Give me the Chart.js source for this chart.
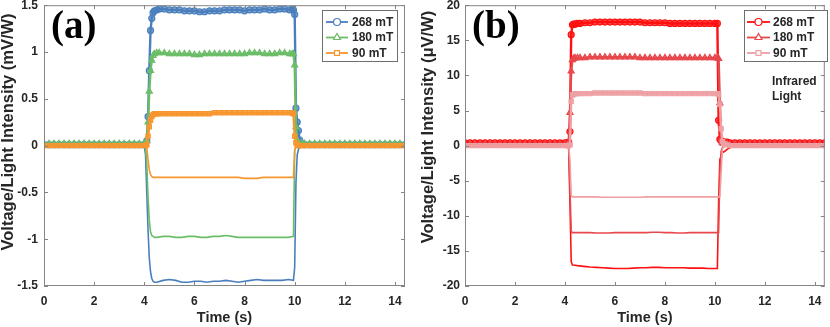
<!DOCTYPE html>
<html>
<head>
<meta charset="utf-8">
<script src="https://cdn.jsdelivr.net/npm/chart.js@4.4.0/dist/chart.umd.min.js"></script>
<style>
  html, body { margin: 0; padding: 0; background: #fff; }
  #wrap { position: relative; width: 830px; height: 327px; }
  canvas { position: absolute; top: 0; }
  #panelA { left: 0; }
  #panelB { left: 415px; }
</style>
</head>
<body>
<div id="wrap">
  <canvas id="panelA" width="415" height="327"></canvas>
  <canvas id="panelB" width="415" height="327"></canvas>
</div>
<script>
// ---------- data: panel (a), mV/W ----------
const xTicks = [0, 2, 4, 6, 8, 10, 12, 14];
const yTicksA = [-1.5, -1, -0.5, 0, 0.5, 1, 1.5];
const yTicksB = [-20, -15, -10, -5, 0, 5, 10, 15, 20];
const legendLabels = ['268 mT', '180 mT', '90 mT'];

const timeA = [0, 0.2, 0.4, 0.6, 0.8, 1, 1.2, 1.4, 1.6, 1.8, 2, 2.2, 2.4, 2.6, 2.8, 3, 3.2, 3.4, 3.6, 3.8, 4,
    4.05, 4.1, 4.15, 4.2, 4.25, 4.3, 4.35, 4.4, 4.5,
    4.6, 4.8, 5, 5.2, 5.4, 5.6, 5.8, 6, 6.2, 6.4, 6.6, 6.8, 7, 7.2, 7.4, 7.6, 7.8, 8, 8.2, 8.4, 8.6, 8.8, 9, 9.2, 9.4, 9.6, 9.8,
    9.9, 9.95, 10, 10.05, 10.1, 10.15, 10.2, 10.3, 10.4,
    10.6, 10.8, 11, 11.2, 11.4, 11.6, 11.8, 12, 12.2, 12.4, 12.6, 12.8, 13, 13.2, 13.4, 13.6, 13.8, 14, 14.2, 14.4];

const blue268A = [0.01, 0.01, 0.01, 0.01, 0.01, 0.01, 0.01, 0.01, 0.01, 0.01, 0.01, 0.01, 0.01, 0.01, 0.01, 0.01, 0.01, 0.01, 0.01, 0.01, 0.01,
    0.02, 0.05, 0.31, 0.8, 1.23, 1.36, 1.42, 1.44, 1.45,
    1.46, 1.46, 1.45, 1.45, 1.45, 1.44, 1.44, 1.44, 1.43, 1.43, 1.44, 1.44, 1.44, 1.45, 1.45, 1.45, 1.45, 1.44, 1.45, 1.45, 1.45, 1.46, 1.45, 1.45, 1.46, 1.46, 1.45,
    1.46, 1.45, 1.40, 0.40, 0.25, 0.16, 0.06, 0.02, 0.01,
    0.01, 0.01, 0.01, 0.01, 0.01, 0.01, 0.01, 0.01, 0.01, 0.01, 0.01, 0.01, 0.01, 0.01, 0.01, 0.01, 0.01, 0.01, 0.01, 0.01];

const green180A = [0.02, 0.02, 0.02, 0.02, 0.02, 0.02, 0.02, 0.02, 0.02, 0.02, 0.02, 0.02, 0.02, 0.02, 0.02, 0.02, 0.02, 0.02, 0.02, 0.02, 0.02,
    0.02, 0.05, 0.25, 0.58, 0.8, 0.91, 0.96, 0.98, 0.99,
    0.99, 0.99, 0.98, 0.98, 0.98, 0.98, 0.98, 0.97, 0.97, 0.98, 0.98, 0.98, 0.98, 0.98, 0.98, 0.98, 0.98, 0.98, 0.99, 0.99, 0.99, 0.98, 0.98, 0.98, 0.99, 0.99, 0.98,
    0.98, 0.98, 0.86, 0.20, 0.06, 0.03, 0.02, 0.02, 0.02,
    0.02, 0.02, 0.02, 0.02, 0.02, 0.02, 0.02, 0.02, 0.02, 0.02, 0.02, 0.02, 0.02, 0.02, 0.02, 0.02, 0.02, 0.02, 0.02, 0.02];

const orange90A = [0, 0, 0, 0, 0, 0, 0, 0, 0, 0, 0, 0, 0, 0, 0, 0, 0, 0, 0, 0, 0,
    0, 0.01, 0.1, 0.2, 0.27, 0.31, 0.33, 0.34, 0.34,
    0.34, 0.34, 0.34, 0.34, 0.34, 0.34, 0.34, 0.34, 0.34, 0.34, 0.34, 0.35, 0.35, 0.35, 0.35, 0.35, 0.35, 0.35, 0.35, 0.35, 0.35, 0.35, 0.35, 0.35, 0.35, 0.35, 0.35,
    0.35, 0.34, 0.10, 0.03, 0.01, 0, 0, 0, 0,
    0, 0, 0, 0, 0, 0, 0, 0, 0, 0, 0, 0, 0, 0, 0, 0, 0, 0, 0, 0];

// reversed-field traces (no markers)
const negTimeA = [0, 4, 4.05, 4.1, 4.15, 4.2, 4.25, 4.3, 4.35, 4.4, 4.5,
    4.75, 5, 5.25, 5.5, 5.75, 6, 6.25, 6.5, 6.75, 7, 7.25, 7.5, 7.75, 8, 8.25, 8.5, 8.75, 9, 9.25, 9.5, 9.75,
    9.95, 10, 10.05, 10.1, 10.15, 10.2, 10.3, 14.4];

const blueNegA = [0, 0, -0.1, -0.5, -0.9, -1.2, -1.35, -1.42, -1.45, -1.46, -1.46,
    -1.44, -1.43, -1.44, -1.46, -1.46, -1.45, -1.45, -1.46, -1.45, -1.45, -1.44, -1.45, -1.46, -1.45, -1.44, -1.43, -1.44, -1.44, -1.44, -1.44, -1.43,
    -1.44, -1.3, -0.4, -0.1, -0.04, -0.02, 0, 0];

const greenNegA = [0, 0, -0.02, -0.2, -0.55, -0.8, -0.92, -0.96, -0.97, -0.98, -0.98,
    -0.97, -0.97, -0.98, -0.98, -0.97, -0.97, -0.98, -0.98, -0.97, -0.97, -0.96, -0.97, -0.98, -0.98, -0.98, -0.98, -0.98, -0.98, -0.98, -0.98, -0.98,
    -0.97, -0.05, -0.02, 0, 0, 0, 0, 0];

const orangeNegA = [0, 0, 0, -0.02, -0.15, -0.26, -0.31, -0.33, -0.34, -0.34, -0.34,
    -0.34, -0.34, -0.34, -0.34, -0.34, -0.34, -0.34, -0.34, -0.34, -0.34, -0.34, -0.34, -0.34, -0.35, -0.35, -0.35, -0.34, -0.34, -0.34, -0.34, -0.34,
    -0.34, -0.05, 0, 0, 0, 0, 0, 0];

// ---------- data: panel (b), uV/W ----------
const timeB = [0, 0.2, 0.4, 0.6, 0.8, 1, 1.2, 1.4, 1.6, 1.8, 2, 2.2, 2.4, 2.6, 2.8, 3, 3.2, 3.4, 3.6, 3.8, 4,
    4.1, 4.15, 4.2, 4.25, 4.3, 4.35, 4.4, 4.5,
    4.6, 4.8, 5, 5.2, 5.4, 5.6, 5.8, 6, 6.2, 6.4, 6.6, 6.8, 7, 7.2, 7.4, 7.6, 7.8, 8, 8.2, 8.4, 8.6, 8.8, 9, 9.2, 9.4, 9.6, 9.8, 10,
    10.1, 10.15, 10.2, 10.25, 10.3, 10.35, 10.4, 10.5,
    10.6, 10.8, 11, 11.2, 11.4, 11.6, 11.8, 12, 12.2, 12.4, 12.6, 12.8, 13, 13.2, 13.4, 13.6, 13.8, 14, 14.2, 14.4];

const red268B = [0.4, 0.4, 0.4, 0.4, 0.4, 0.4, 0.4, 0.4, 0.4, 0.4, 0.4, 0.4, 0.4, 0.4, 0.4, 0.4, 0.4, 0.4, 0.4, 0.4, 0.4,
    0.4, 0.5, 2.0, 15.8, 17.2, 17.3, 17.3, 17.4,
    17.4, 17.5, 17.5, 17.6, 17.6, 17.6, 17.6, 17.6, 17.6, 17.6, 17.6, 17.6, 17.6, 17.5, 17.5, 17.5, 17.5, 17.5, 17.4, 17.4, 17.4, 17.4, 17.4, 17.4, 17.4, 17.4, 17.4, 17.4,
    17.4, 3.6, 0.9, 0.7, 0.6, 0.5, 0.5, 0.5,
    0.4, 0.4, 0.4, 0.4, 0.4, 0.4, 0.4, 0.4, 0.4, 0.4, 0.4, 0.4, 0.4, 0.4, 0.4, 0.4, 0.4, 0.4, 0.4, 0.4];

const red180B = [0.2, 0.2, 0.2, 0.2, 0.2, 0.2, 0.2, 0.2, 0.2, 0.2, 0.2, 0.2, 0.2, 0.2, 0.2, 0.2, 0.2, 0.2, 0.2, 0.2, 0.2,
    0.2, 0.3, 4.7, 10.6, 12.2, 12.4, 12.5, 12.5,
    12.5, 12.5, 12.6, 12.6, 12.6, 12.6, 12.6, 12.6, 12.6, 12.6, 12.6, 12.6, 12.5, 12.5, 12.5, 12.5, 12.5, 12.5, 12.5, 12.5, 12.5, 12.5, 12.5, 12.5, 12.5, 12.5, 12.5, 12.5,
    12.5, 12.4, 6.1, 0.8, 0.4, 0.3, 0.3, 0.2,
    0.2, 0.2, 0.2, 0.2, 0.2, 0.2, 0.2, 0.2, 0.2, 0.2, 0.2, 0.2, 0.2, 0.2, 0.2, 0.2, 0.2, 0.2, 0.2, 0.2];

const pink90B = [0, 0, 0, 0, 0, 0, 0, 0, 0, 0, 0, 0, 0, 0, 0, 0, 0, 0, 0, 0, 0,
    0, 0, 0.1, 6.3, 7.2, 7.3, 7.4, 7.4,
    7.4, 7.4, 7.4, 7.5, 7.5, 7.5, 7.5, 7.5, 7.5, 7.5, 7.5, 7.5, 7.5, 7.4, 7.4, 7.4, 7.4, 7.4, 7.4, 7.4, 7.4, 7.4, 7.4, 7.4, 7.4, 7.4, 7.4, 7.4,
    7.4, 7.3, 5.9, 2.4, 0.6, 0.3, 0.2, 0.1,
    0, 0, 0, 0, 0, 0, 0, 0, 0, 0, 0, 0, 0, 0, 0, 0, 0, 0, 0, 0];

const negTimeB = [0, 4.1, 4.15, 4.2, 4.25, 4.3, 4.4, 4.5,
    4.75, 5, 5.25, 5.5, 5.75, 6, 6.25, 6.5, 6.75, 7, 7.25, 7.5, 7.75, 8, 8.25, 8.5, 8.75, 9, 9.25, 9.5, 9.75,
    10, 10.1, 10.15, 10.2, 10.25, 10.3, 10.4, 10.5, 10.6, 10.8, 14.4];

const red268NegB = [0, 0, -0.5, -8, -16.5, -17, -17.05, -17.1,
    -17.2, -17.3, -17.35, -17.4, -17.45, -17.5, -17.5, -17.5, -17.45, -17.4, -17.4, -17.35, -17.35, -17.4, -17.4, -17.4, -17.4, -17.45, -17.45, -17.45, -17.5,
    -17.5, -17.5, -8, -2, -1.5, -1.0, -0.8, -0.5, -0.3, 0, 0];

const red180NegB = [0, 0, -0.2, -6, -12.2, -12.4, -12.4, -12.4,
    -12.4, -12.4, -12.45, -12.45, -12.45, -12.4, -12.4, -12.4, -12.4, -12.4, -12.4, -12.35, -12.35, -12.4, -12.4, -12.45, -12.45, -12.4, -12.4, -12.4, -12.4,
    -12.4, -12.4, -12.4, -4, -0.8, -0.3, 0, 0, 0, 0, 0];

const pink90NegB = [0, 0, 0, -2, -7, -7.3, -7.3, -7.3,
    -7.3, -7.3, -7.3, -7.35, -7.35, -7.35, -7.35, -7.35, -7.35, -7.35, -7.3, -7.3, -7.3, -7.3, -7.3, -7.3, -7.3, -7.3, -7.3, -7.3, -7.3,
    -7.3, -7.3, -7.3, -7.3, -4, -0.5, 0, 0, 0, 0, 0];

// ---------- styling ----------
const AXIS_COLOR = '#858585';
const TEXT_COLOR = '#262626';
const SANS = "'Liberation Sans', Arial, sans-serif";

Chart.defaults.font.family = SANS;
Chart.defaults.font.weight = 'bold';
Chart.defaults.font.size = 12;
Chart.defaults.color = TEXT_COLOR;

function zip(xs, ys) {
    if (xs.length !== ys.length) console.warn('length mismatch', xs.length, ys.length);
    return xs.map((x, i) => ({ x: x, y: ys[i] }));
}

function markerSet(label, xs, ys, color, fill, style, order) {
    return {
        label: label,
        data: zip(xs, ys),
        borderColor: color,
        borderWidth: 2.4,
        pointStyle: style,
        pointRadius: style === 'triangle' ? 3.5 : 3,
        pointBorderWidth: 1.2,
        pointBorderColor: color,
        pointBackgroundColor: fill,
        order: order,
        legendMarker: true
    };
}

function plainSet(xs, ys, color, order) {
    return {
        label: '',
        data: zip(xs, ys),
        borderColor: color,
        borderWidth: 1.6,
        pointRadius: 0,
        order: order
    };
}

function setTicks(values) {
    return function(scale) {
        scale.ticks = values.map(v => ({ value: v }));
    };
}

// box, inward ticks, legend, y title and panel notes
const framePlugin = {
    id: 'frame',
    afterDraw(chart, args, opts) {
        const { ctx, chartArea: a, scales: { x, y } } = chart;
        ctx.save();
        ctx.strokeStyle = AXIS_COLOR;
        ctx.lineWidth = 1;
        ctx.strokeRect(a.left + 0.5, a.top + 0.5, a.right - a.left - 1, a.bottom - a.top - 1);
        ctx.beginPath();
        x.ticks.forEach(t => {
            const px = Math.round(x.getPixelForValue(t.value)) + 0.5;
            ctx.moveTo(px, a.bottom); ctx.lineTo(px, a.bottom - 4);
            ctx.moveTo(px, a.top); ctx.lineTo(px, a.top + 4);
        });
        y.ticks.forEach(t => {
            const py = Math.round(y.getPixelForValue(t.value)) + 0.5;
            ctx.moveTo(a.left, py); ctx.lineTo(a.left + 4, py);
            ctx.moveTo(a.right, py); ctx.lineTo(a.right - 4, py);
        });
        ctx.stroke();

        // legend
        const lg = opts.legend;
        ctx.fillStyle = '#ffffff';
        ctx.fillRect(lg.left, lg.top, lg.width, lg.height);
        ctx.strokeStyle = '#6f6f6f';
        ctx.strokeRect(lg.left + 0.5, lg.top + 0.5, lg.width - 1, lg.height - 1);
        const entries = chart.data.datasets.filter(d => d.legendMarker);
        entries.forEach((d, i) => {
            const ry = lg.rows[i];
            ctx.strokeStyle = d.borderColor;
            ctx.lineWidth = 1.8;
            ctx.beginPath();
            ctx.moveTo(lg.lineX1, ry);
            ctx.lineTo(lg.lineX2, ry);
            ctx.stroke();
            ctx.fillStyle = '#ffffff';
            ctx.lineWidth = 1.2;
            Chart.helpers.drawPoint(ctx, {
                pointStyle: d.pointStyle,
                radius: d.pointRadius + 0.5,
                borderWidth: 1.2,
                rotation: 0
            }, (lg.lineX1 + lg.lineX2) / 2, ry);
            ctx.fillStyle = TEXT_COLOR;
            ctx.font = 'bold 12px ' + SANS;
            ctx.textAlign = 'left';
            ctx.textBaseline = 'middle';
            ctx.fillText(d.label, lg.textX, ry + 0.5);
        });

        // y axis title
        ctx.save();
        ctx.translate(opts.yTitleX, opts.yTitleY);
        ctx.rotate(-Math.PI / 2);
        ctx.fillStyle = TEXT_COLOR;
        ctx.font = 'bold 16.5px ' + SANS;
        ctx.textAlign = 'center';
        ctx.textBaseline = 'middle';
        ctx.fillText(opts.yTitle, 0, 0);
        ctx.restore();

        // panel letter
        ctx.fillStyle = '#000000';
        ctx.font = 'bold 39px "Liberation Serif", "Times New Roman", serif';
        ctx.textAlign = 'left';
        ctx.textBaseline = 'alphabetic';
        ctx.fillText(opts.letter, opts.letterX, opts.letterY);

        if (opts.note) {
            ctx.fillStyle = TEXT_COLOR;
            ctx.font = 'bold 12px ' + SANS;
            ctx.textBaseline = 'middle';
            opts.note.forEach((line, i) => ctx.fillText(line, opts.noteX, opts.noteY + i * 15));
        }
        ctx.restore();
    }
};

function makePanel(canvasId, datasets, cfg) {
    return new Chart(document.getElementById(canvasId), {
        type: 'line',
        data: { datasets: datasets },
        plugins: [framePlugin],
        options: {
            responsive: false,
            animation: false,
            layout: { padding: { left: 0, right: cfg.padRight, top: 5, bottom: 0 } },
            plugins: {
                legend: { display: false },
                tooltip: { enabled: false },
                frame: cfg.frame
            },
            scales: {
                x: {
                    type: 'linear',
                    min: 0,
                    max: 14.4,
                    afterBuildTicks: setTicks(xTicks),
                    afterFit: s => { s.height = 41; s.paddingLeft = 0; s.paddingRight = 0; },
                    grid: { display: false, drawTicks: false },
                    border: { display: false },
                    ticks: { padding: 8, maxRotation: 0, callback: v => String(v) },
                    title: {
                        display: true,
                        text: 'Time (s)',
                        font: { size: 14.5, weight: 'bold' },
                        padding: { top: 0, bottom: 0 }
                    }
                },
                y: {
                    type: 'linear',
                    min: cfg.yMin,
                    max: cfg.yMax,
                    afterBuildTicks: setTicks(cfg.yTicks),
                    afterFit: s => { s.width = cfg.axisWidth; s.paddingTop = 0; s.paddingBottom = 0; },
                    grid: { display: false, drawTicks: false },
                    border: { display: false },
                    ticks: { padding: cfg.tickPad, callback: v => String(v) }
                }
            }
        }
    });
}

const BLUE = '#4A7FBC', GREEN = '#6BBD68', ORANGE = '#F7962E';
const RED = '#FF1010', RED2 = '#E8474C', PINK = '#EEA0A3';

makePanel('panelA', [
    markerSet(legendLabels[0], timeA, blue268A, BLUE, 'rgba(74,127,188,0.7)', 'circle', 3),
    markerSet(legendLabels[1], timeA, green180A, GREEN, 'rgba(107,189,104,0.7)', 'triangle', 2),
    markerSet(legendLabels[2], timeA, orange90A, ORANGE, 'rgba(247,150,46,0.75)', 'rect', 1),
    plainSet(negTimeA, blueNegA, BLUE, 6),
    plainSet(negTimeA, greenNegA, GREEN, 5),
    plainSet(negTimeA, orangeNegA, ORANGE, 4)
], {
    padRight: 10, axisWidth: 44, tickPad: 6,
    yMin: -1.5, yMax: 1.5, yTicks: yTicksA,
    frame: {
        legend: { left: 322, top: 10, width: 76, height: 52, rows: [22, 37.5, 53], lineX1: 326, lineX2: 348, textX: 352 },
        letter: '(a)', letterX: 51, letterY: 38,
        yTitle: 'Voltage/Light Intensity (mV/W)', yTitleX: 8, yTitleY: 132
    }
});

makePanel('panelB', [
    markerSet(legendLabels[0], timeB, red268B, RED, 'rgba(255,16,16,0.7)', 'circle', 3),
    markerSet(legendLabels[1], timeB, red180B, RED2, 'rgba(232,71,76,0.7)', 'triangle', 2),
    markerSet(legendLabels[2], timeB, pink90B, PINK, 'rgba(238,160,163,0.75)', 'rect', 1),
    plainSet(negTimeB, red268NegB, RED, 6),
    plainSet(negTimeB, red180NegB, RED2, 5),
    plainSet(negTimeB, pink90NegB, PINK, 4)
], {
    padRight: 5, axisWidth: 50, tickPad: 5,
    yMin: -20, yMax: 20, yTicks: yTicksB,
    frame: {
        legend: { left: 329, top: 10, width: 84, height: 52, rows: [22, 37.5, 53], lineX1: 332, lineX2: 355, textX: 358 },
        letter: '(b)', letterX: 57, letterY: 38,
        yTitle: 'Voltage/Light Intensity (\u03BCV/W)', yTitleX: 13.5, yTitleY: 127,
        note: ['Infrared', 'Light'], noteX: 357, noteY: 82
    }
});
</script>
</body>
</html>
